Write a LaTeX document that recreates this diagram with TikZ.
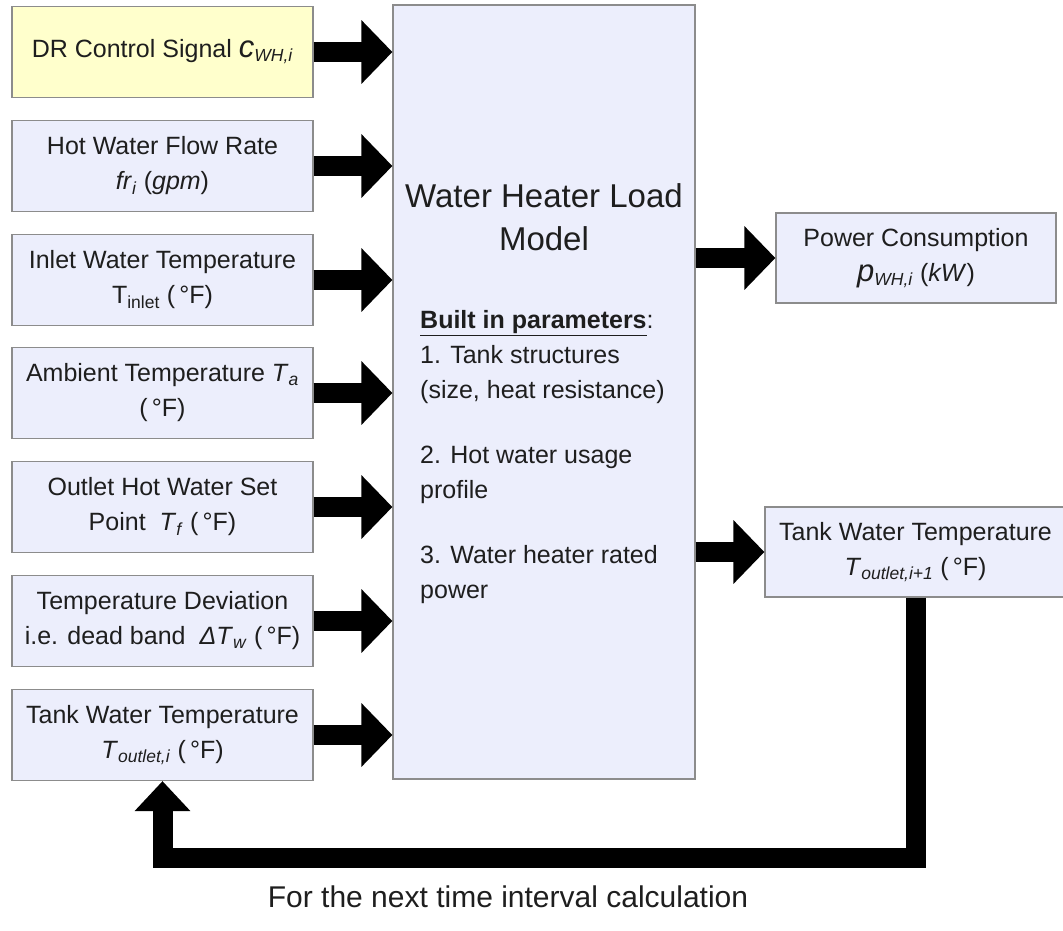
\documentclass[tikz,border=0pt]{standalone}
\usepackage{fontspec}
\setmainfont{Liberation Sans}
\usetikzlibrary{arrows.meta}
\definecolor{boxfill}{RGB}{236,238,252}
\definecolor{ctrlfill}{RGB}{255,255,204}
\definecolor{boxline}{RGB}{140,140,140}
\definecolor{inkgray}{RGB}{30,30,30}
\newcommand{\degF}{(\,°F)}
\newcommand{\bigvar}[1]{{\fontsize{31}{35}\selectfont\textit{#1}}}

\begin{document}
\begin{tikzpicture}[x=1pt, y=-1pt, text=inkgray,
        inbox/.style = {draw=boxline, line width=1.2pt, fill=boxfill, minimum width=301pt, minimum height=91pt, inner sep=0pt, align=center, font=\fontsize{25}{35}\selectfont},
        ctrlbox/.style = {inbox, fill=ctrlfill},
        modelbox/.style = {draw=boxline, line width=1.2pt, fill=boxfill, minimum width=302pt, minimum height=774pt, inner sep=0pt},
        flow/.style = {line width=20pt, -{Triangle[width=62pt,length=31pt]}},
        loopflow/.style = {line width=20pt, line join=miter, -{Triangle[width=54pt,length=30pt]}}]
    \useasboundingbox (0,0) rectangle (1063,930);
    % inputs
    \node[ctrlbox] (in1) at (162.5,52) {DR Control Signal \bigvar{c}\textsubscript{\textit{WH,i}}};
    \node[inbox] (in2) at (162.5,166) {Hot Water Flow Rate\\ \textit{fr}\textsubscript{\textit{i}} (\textit{gpm})};
    \node[inbox] (in3) at (162.5,280) {Inlet Water Temperature\\ T\textsubscript{inlet} \degF};
    \node[inbox] (in4) at (162.5,393) {Ambient Temperature \textit{T}\textsubscript{\textit{a}}\\ \degF};
    \node[inbox] (in5) at (162.5,507) {Outlet Hot Water Set\\ Point \ \textit{T}\textsubscript{\textit{f}} \degF};
    \node[inbox] (in6) at (162.5,621) {Temperature Deviation\\ i.e. dead band \ \textit{ΔT}\textsubscript{\textit{w}} \degF};
    \node[inbox] (in7) at (162.5,735) {Tank Water Temperature\\ \textit{T}\textsubscript{\textit{outlet,i}} \degF};
    % model
    \node[modelbox] (model) at (544,392) {};
    \node[font=\fontsize{33}{43}\selectfont, align=center, anchor=north, inner sep=0pt] (title) at (544,183) {Water Heater Load\\ Model};
    \node[font=\fontsize{25}{35}\selectfont, align=left, anchor=north west, inner sep=0pt] (params) at (420,310) {\textbf{\underline{Built in parameters}}:\\ 1. Tank structures\\ (size, heat resistance)\\[30pt] 2. Hot water usage\\ profile\\[30pt] 3. Water heater rated\\ power};
    % outputs
    \node[inbox, minimum width=280pt, minimum height=90pt] (power) at (916,258) {Power Consumption\\ \bigvar{p}\textsubscript{\textit{WH,i}} (\textit{kW})};
    \node[inbox, minimum height=90pt] (tankout) at (915.5,552) {Tank Water Temperature\\ \textit{T}\textsubscript{\textit{outlet,i+1}} \degF};
    \node[font=\fontsize{30}{34}\selectfont] (note) at (508,897) {For the next time interval calculation};
    % arrows
    \foreach \i in {1,...,7}
        \draw[flow] (in\i.east) -- (in\i.east -| model.west);
    \draw[flow] (model.east |- power.west) -- (power.west);
    \draw[flow] (model.east |- tankout.west) -- (tankout.west);
    \coordinate (fb) at (915.5,857.5);
    \draw[loopflow] (tankout.south) -- (fb) -- (fb -| in7.south) -- (in7.south);
\end{tikzpicture}
\end{document}
